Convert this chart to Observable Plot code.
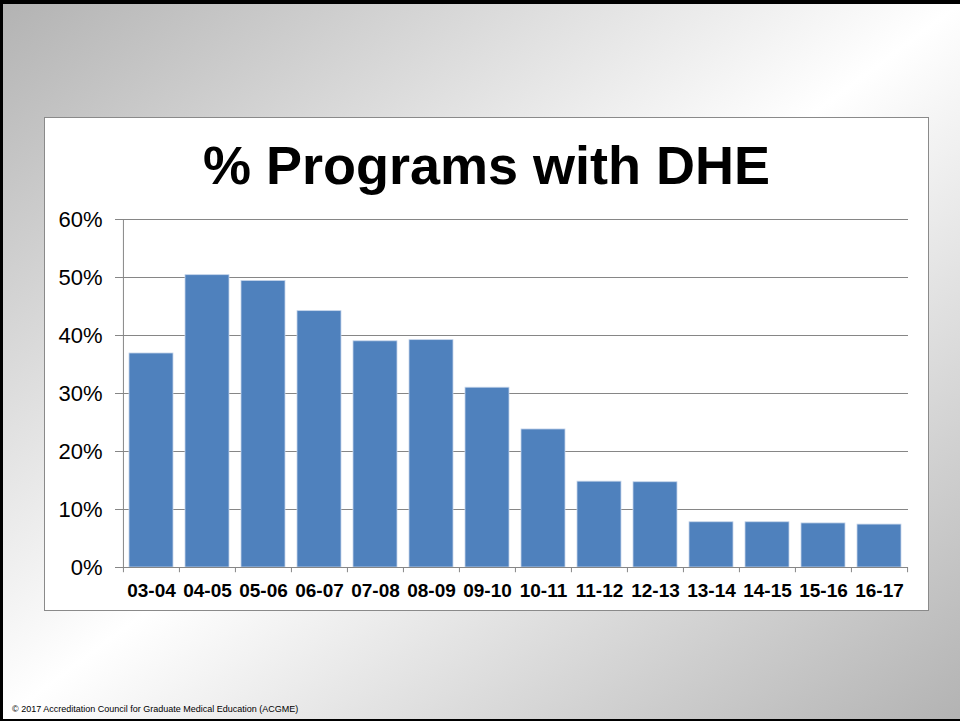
<!DOCTYPE html>
<html><head><meta charset="utf-8">
<script src="https://cdn.jsdelivr.net/npm/d3@7"></script>
<script src="https://cdn.jsdelivr.net/npm/@observablehq/plot@0.6"></script>
<style>
html,body{margin:0;padding:0;}
body{width:960px;height:721px;overflow:hidden;font-family:"Liberation Sans",Arial,sans-serif;}
#slide{position:relative;width:960px;height:721px;box-sizing:border-box;border-top:4px solid #000;border-left:3px solid #000;border-bottom:2px solid #000;background:linear-gradient(to bottom right,#b3b3b3 0%,#ffffff 50%,#b3b3b3 100%);}
#box{position:absolute;left:41px;top:113px;width:885px;height:494px;box-sizing:border-box;border:1px solid #8a8a8a;background:#fff;}
#title{position:absolute;left:0;top:20px;width:100%;text-align:center;font-size:54px;line-height:1;font-weight:bold;color:#000;white-space:nowrap;}
#chart{position:absolute;left:0;top:82px;}
#chart svg text{fill:#000;}
#chart [aria-label^="x-axis"] text{font-size:19px;font-weight:bold;}
#chart [aria-label^="y-axis"] text{font-size:22px;}
#footer{position:absolute;left:9px;top:700px;font-size:9px;color:#000;white-space:nowrap;}
</style>
</head><body>
<div id="slide">
  <div id="box">
    <div id="title">% Programs with DHE</div>
    <div id="chart"></div>
  </div>
  <div id="footer">© 2017 Accreditation Council for Graduate Medical Education (ACGME)</div>
</div>
<script>
const categories = ["03-04","04-05","05-06","06-07","07-08","08-09","09-10","10-11","11-12","12-13","13-14","14-15","15-16","16-17"];
const values = [36.9, 50.4, 49.4, 44.2, 39.0, 39.2, 31.0, 23.8, 14.8, 14.7, 7.8, 7.8, 7.6, 7.4];
const yTicks = [0, 10, 20, 30, 40, 50, 60];

const data = categories.map((c, i) => ({period: c, pct: values[i]}));
const W = 883, ML = 77, MR = 20;
const step = (W - ML - MR) / categories.length;
const grey = "#868686";
const last = categories[categories.length - 1];

const chart = Plot.plot({
  width: W, height: 407,
  marginLeft: ML, marginRight: MR, marginTop: 19, marginBottom: 40,
  style: {background: "transparent", fontFamily: "Liberation Sans, Arial, sans-serif", color: grey, overflow: "visible"},
  x: {domain: categories, paddingInner: 0.21, paddingOuter: 0.105, label: null, tickSize: 0, tickPadding: 16},
  y: {domain: [0, 60], ticks: yTicks, tickFormat: d => d + "%", label: null, tickSize: 7, tickPadding: 13},
  marks: [
    Plot.ruleY(yTicks.slice(1), {y: d => d, stroke: grey, strokeWidth: 1}),
    Plot.barY(data, {x: "period", y: "pct", fill: "#4F81BD", stroke: "#c6d5ea", strokeWidth: 0.8}),
    Plot.ruleY([0], {y: d => d, stroke: grey, strokeWidth: 1}),
    Plot.ruleX([categories[0]], {x: d => d, dx: -step / 2, y1: -0.9, y2: 60, stroke: grey, strokeWidth: 1}),
    Plot.ruleX(categories.slice(1), {x: d => d, dx: -step / 2, y1: -0.9, y2: 0, stroke: grey, strokeWidth: 1}),
    Plot.ruleX([last], {x: d => d, dx: step / 2, y1: -0.9, y2: 0, stroke: grey, strokeWidth: 1})
  ]
});
document.getElementById("chart").appendChild(chart);
</script>
</body></html>
